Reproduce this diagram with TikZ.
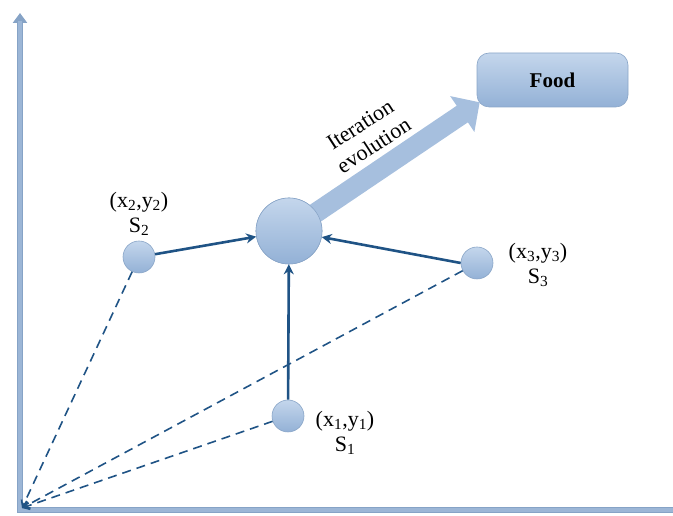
\documentclass[tikz,border=0pt]{standalone}
\usepackage{fontspec}
\setmainfont{Liberation Serif}
\usetikzlibrary{arrows.meta,calc}
\definecolor{axisblue}{HTML}{9CB6D6}
\definecolor{axisedge}{HTML}{86A3C6}
\definecolor{conn}{HTML}{1F5385}
\definecolor{ctop}{HTML}{C4D6EC}
\definecolor{cbot}{HTML}{93B1D6}
\definecolor{cedge}{HTML}{8AA6C8}
\definecolor{bigarrow}{HTML}{A6BFDE}
\tikzset{
  particle/.style={circle, draw=cedge, line width=0.6pt, top color=ctop, bottom color=cbot, inner sep=0pt},
  lbl/.style={font=\fontsize{22}{25}\selectfont, align=center, inner sep=0pt},
  solidconn/.style={draw=conn, line width=2.6pt, -{Stealth[length=10pt,width=10pt]}},
  dashconn/.style={draw=conn, line width=1.6pt, dash pattern=on 9pt off 6pt, -{Straight Barb[length=6pt,width=8pt]}},
  axis/.style={draw=axisedge, line width=5.5pt},
  axisin/.style={draw=axisblue, line width=3.5pt},
}
\begin{document}
\begin{tikzpicture}[x=1pt,y=1pt]
\useasboundingbox (0,0) rectangle (673,516);
% axes
\coordinate (O) at (22,8);
\coordinate (ytop) at (20,503);
\coordinate (xend) at (673,6);
\coordinate (corner) at (20,6);
\draw[axis, -{Triangle[length=10pt,width=14pt]}] (corner) -- (ytop);
\draw[axis] (17.25,6) -- (xend);
\draw[axisin] (20,6) -- (20,495);
\draw[axisin] (18.25,6) -- (xend);
% nodes
\node[particle, minimum size=66pt] (big) at (289,285) {};
\node[particle, minimum size=32pt] (s2) at (139,259) {};
\node[particle, minimum size=32pt] (s3) at (477,253) {};
\node[particle, minimum size=32pt] (s1) at (288,100) {};
\node[draw=cedge, line width=0.6pt, top color=ctop, bottom color=cbot, rounded corners=12pt,
      minimum width=151pt, minimum height=54pt, font=\fontsize{21}{24}\selectfont\bfseries] (food) at (552.5,436) {Food};
% big arrow
\coordinate (tip) at ($(food.south west)+(3,5)$);
\draw[bigarrow, line width=20pt, -{Triangle[length=21pt,width=42pt]}] (big.center) -- (tip);
% redraw big circle on top
\node[particle, minimum size=66pt] at (big.center) {};
\node[lbl, rotate=33] (iter) at (367,381) {Iteration\\evolution};
% labels
\node[lbl] (l2) at (139,302) {(x\textsubscript{2},y\textsubscript{2})\\S\textsubscript{2}};
\node[lbl] (l3) at (538,251) {(x\textsubscript{3},y\textsubscript{3})\\S\textsubscript{3}};
\node[lbl] (l1) at (345,83) {(x\textsubscript{1},y\textsubscript{1})\\S\textsubscript{1}};
% dashed connectors to origin
\draw[dashconn] (s2) -- (O);
\draw[dashconn] (s3) -- (O);
\draw[dashconn] (s1) -- (O);
% solid connectors
\draw[solidconn] (s2) -- (big);
\draw[solidconn] (s3.west) -- (big);
\draw[solidconn] (s1) -- (big);
\end{tikzpicture}
\end{document}
